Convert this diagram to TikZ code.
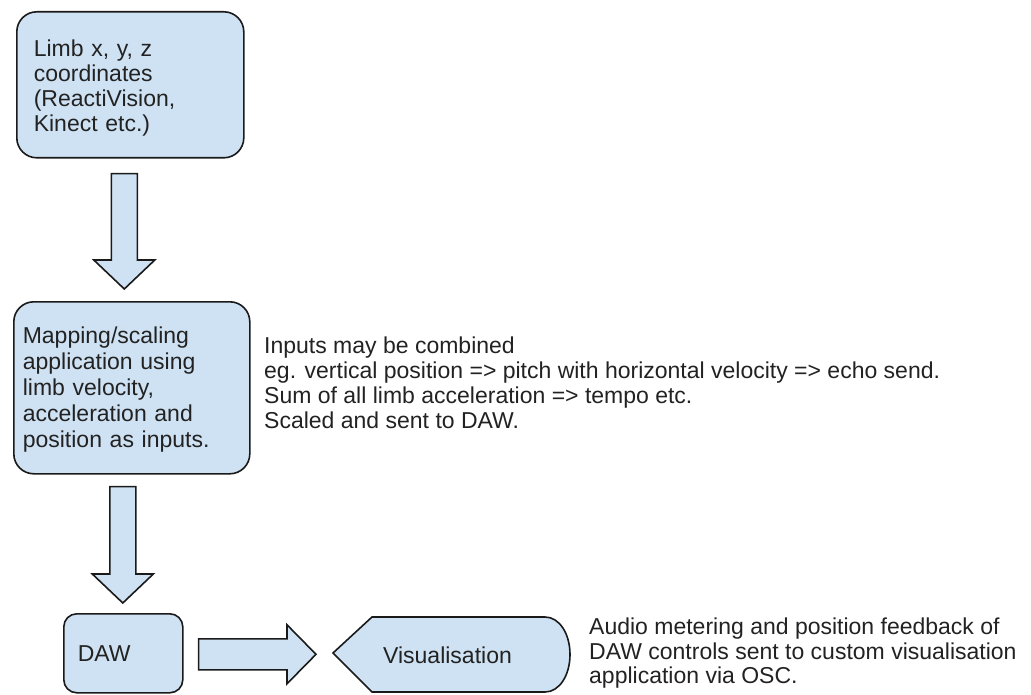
\documentclass[tikz,border=0pt]{standalone}
\usepackage{fontspec}
\setmainfont{Liberation Sans}
\usetikzlibrary{calc}
\definecolor{boxfill}{HTML}{CFE2F3}
\definecolor{boxline}{HTML}{1A1A1A}
\definecolor{ink}{HTML}{222222}
\tikzset{
  roundbox/.style={draw=boxline, fill=boxfill, line width=1.6pt, rounded corners=20pt,
    align=left, text=ink, font=\fontsize{23}{25}\selectfont},
  blockarrow/.style={draw=boxline, fill=boxfill, line width=1.6pt, line join=miter},
  plaintext/.style={inner sep=0pt, align=left, text=ink},
}
% vertical block arrow from a start coordinate down to a tip coordinate
\newcommand\downblock[2]{%
  \draw[blockarrow] let \p1=(#1), \p2=(#2) in
    (\x1-13pt,\y1) -- (\x1+13pt,\y1) -- (\x1+13pt,\y2+29pt) -- (\x1+30.5pt,\y2+29pt)
    -- (\x1,\y2) -- (\x1-30.5pt,\y2+29pt) -- (\x1-13pt,\y2+29pt) -- cycle;}
\begin{document}
\begin{tikzpicture}[x=1pt, y=-1pt]
\useasboundingbox (0,0) rectangle (1031,695);

% boxes
\node[roundbox, anchor=north west, minimum width=227pt, minimum height=146pt,
      text width=193pt, inner xsep=17pt] (limb) at (16,11)
  {\rule{0pt}{23pt}Limb x, y, z\\coordinates\\(ReactiVision,\\Kinect etc.)};
\node[roundbox, anchor=north west, minimum width=236pt, minimum height=172pt,
      text width=218pt, inner xsep=9pt, font=\fontsize{23}{26}\selectfont] (map) at (13,301)
  {\rule{0pt}{21pt}Mapping/scaling\\application using\\limb velocity,\\acceleration and\\position as inputs.};
\node[roundbox, anchor=north west, minimum width=119pt, minimum height=79pt,
      text width=91pt, inner xsep=14pt, rounded corners=13pt] (daw) at (63,613) {DAW};

% display-shaped visualisation block
\draw[blockarrow] (333,653) -- (372,617) -- (545,617)
  .. controls (559.4,617) and (570,633.8) .. (570,654.5)
  .. controls (570,675.2) and (559.4,692) .. (545,692) -- (372,692) -- cycle;
\node[plaintext, font=\fontsize{23}{26}\selectfont] (vis) at (447.5,655) {Visualisation};

% arrow end points
\coordinate (a1s) at ($(limb.south)+(-6,15)$);
\coordinate (a1e) at ($(map.north)+(-6,-12)$);
\coordinate (a2s) at ($(map.south)+(-9,12)$);
\coordinate (a2e) at ($(daw.north)+(-1,-10)$);
\coordinate (r1s) at ($(daw.east)+(15,1)$);
\coordinate (r1e) at (316,653.5);

\downblock{a1s}{a1e}
\downblock{a2s}{a2e}
\draw[blockarrow] let \p1=(r1s), \p2=(r1e) in
  (\x1,\y1+15.5pt) -- (\x2-29pt,\y1+15.5pt) -- (\x2-29pt,\y1+29.5pt) -- (\x2,\y1)
  -- (\x2-29pt,\y1-29.5pt) -- (\x2-29pt,\y1-15.5pt) -- (\x1,\y1-15.5pt) -- cycle;

% notes
\node[plaintext, anchor=north west, font=\fontsize{23}{25}\selectfont] (notes) at (264,336.5)
  {Inputs may be combined\\
   eg. vertical position => pitch with horizontal velocity => echo send.\\
   Sum of all limb acceleration => tempo etc.\\
   Scaled and sent to DAW.};
\node[plaintext, anchor=north west, font=\fontsize{23}{24.5}\selectfont] (feedback) at (589,618)
  {Audio metering and position feedback of\\
   DAW controls sent to custom visualisation\\
   application via OSC.};
\end{tikzpicture}
\end{document}
